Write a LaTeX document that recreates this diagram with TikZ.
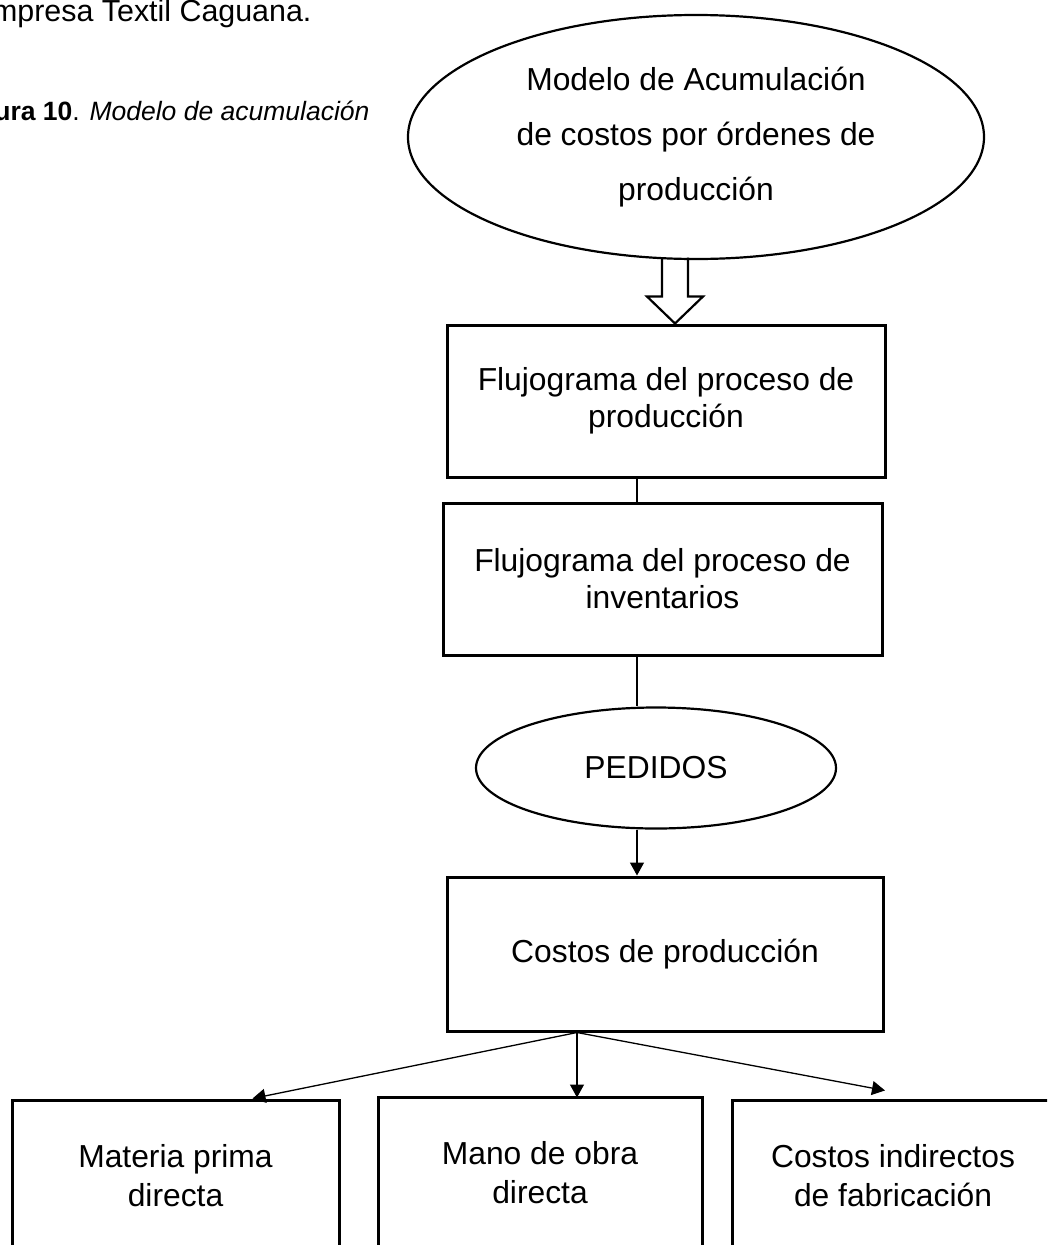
\documentclass[tikz,border=0pt]{standalone}
\usepackage{fontspec}
\setmainfont{Liberation Sans}
\usetikzlibrary{shapes.geometric,arrows.meta}

\begin{document}
\begin{tikzpicture}[x=1pt,y=-1pt,
  box/.style={draw,line width=3pt,minimum width=#1,minimum height=152pt,inner sep=0pt,align=center,font=\fontsize{31.8}{37}\selectfont},
  box/.default=438pt,
  oval/.style={draw,ellipse,line width=2.2pt,inner sep=0pt,align=center,font=\fontsize{31.8}{55}\selectfont},
  link/.style={line width=1.3pt},
  flow/.style={link,-{Triangle[length=13pt,width=14pt]}}]
  \useasboundingbox [fill=white] (0,0) rectangle (1047,1245);
  \clip (0,0) rectangle (1047,1245);

  \node [anchor=base east,font=\fontsize{30.4}{36}\selectfont] (head) at (315,21) {Empresa Textil Caguana.};
  \node [anchor=base east,font=\fontsize{26.5}{30}\selectfont] (caption) at (373,120) {\textbf{Figura 10}. \textit{Modelo de acumulación}};

  \node [oval,minimum width=576pt,minimum height=244pt] (model) at (696,137) {Modelo de Acumulación\\de costos por órdenes de\\producción};
  \node [box] (prod) at (666,401) {Flujograma del proceso de\\producción};
  \node [box=439pt] (inv) at (662.5,579) {Flujograma del proceso de\\inventarios};
  \node [oval,minimum width=360pt,minimum height=121pt] (pedidos) at (656,768) {PEDIDOS};
  \node [box=436pt,minimum height=154pt] (cost) at (665,954) {Costos de producción};

  \node [box=327pt,font=\fontsize{31.8}{39}\selectfont] (mat) at (175.5,1176) {Materia prima\\directa};
  \node [box=324pt,font=\fontsize{31.8}{39}\selectfont] (mano) at (540,1173) {Mano de obra\\directa};
  \node [box=322pt,font=\fontsize{31.8}{39}\selectfont] (cif) at (893,1176) {Costos indirectos\\de fabricación};

  \coordinate (tip) at ([xshift=9pt]prod.north);
  \draw [line width=2.2pt,line join=miter] (tip) ++(-13,-66) -- ++(0,39) -- ++(-15,0) -- (tip) -- ++(28,-27) -- ++(-15,0) -- ++(0,-39);

  \coordinate (axis) at (637,0);
  \draw [link] (prod.south -| axis) -- (inv.north -| axis);
  \draw [link] (inv.south -| axis) -- (pedidos.north -| axis);
  \draw [flow] (pedidos.south -| axis) -- (cost.north -| axis);

  \coordinate (fan) at ([xshift=-88pt]cost.south);
  \draw [flow] (fan) -- ([xshift=77pt]mat.north);
  \draw [flow] (fan) -- ([xshift=37pt,yshift=-2pt]mano.north);
  \draw [flow] (fan) -- ([xshift=-8pt,yshift=8pt]cif.north);

\end{tikzpicture}
\end{document}
